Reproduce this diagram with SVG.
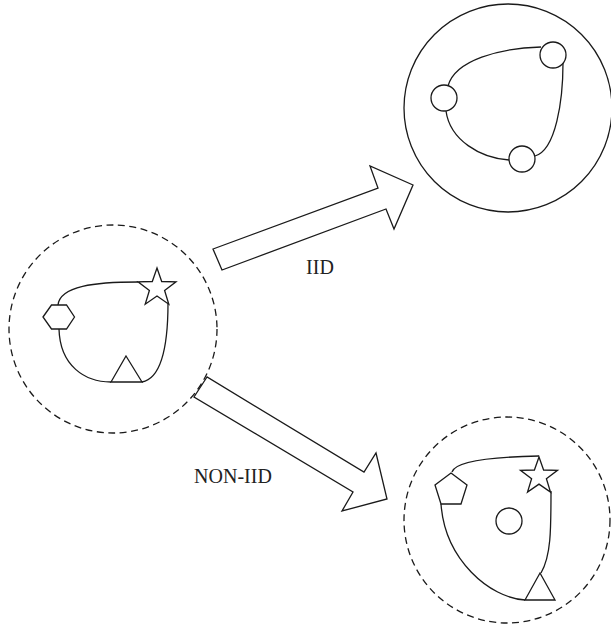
<svg xmlns="http://www.w3.org/2000/svg" width="611" height="629" viewBox="0 0 611 629">
<style>
.ln{fill:none;stroke:#1a1a1a;stroke-width:1.3}
.sh{fill:#fff;stroke:#1a1a1a;stroke-width:1.3;stroke-linejoin:miter}
.dash{fill:none;stroke:#1a1a1a;stroke-width:1.3;stroke-dasharray:7 4.5}
.lbl{font-family:"Liberation Serif","Times New Roman",serif;font-size:20px;fill:#222}
</style>
<rect width="611" height="629" fill="#fff"/>
<g id="connectors">
<polygon class="sh" points="222,270 213,249 378,188 370,166 413,185 394,229 386,209"/>
<polygon class="sh" points="207,377 194,397 353,492 342,511 387,499 376,453 364,472"/>
</g>
<g id="label-iid"><text class="lbl" x="320" y="274" text-anchor="middle">IID</text></g>
<g id="label-noniid"><text class="lbl" x="233" y="483" text-anchor="middle">NON-IID</text></g>
<g id="node-source">
<circle class="dash" cx="113" cy="329" r="104"/>
<path class="ln" d="M58,305 C60,286 95,282 138,282"/>
<path class="ln" d="M168,303 C168,340 163,378 142,382"/>
<path class="ln" d="M59,329 C60,366 85,382 111,382"/>
<polygon class="sh" points="43,317 51.5,305 66.5,305 74.5,317 66.5,329 51.5,329"/>
<polygon class="sh" points="157,268 161.7,281.5 176,281.8 164.6,290.5 168.8,304.2 157,296 145.2,304.2 149.4,290.5 138,281.8 152.3,281.5"/>
<polygon class="sh" points="126,356 142,382 111,382"/>
</g>
<g id="node-iid">
<circle class="ln" cx="508" cy="108" r="104"/>
<path class="ln" d="M448,86 C455,60 500,48 541,47"/>
<path class="ln" d="M563,63 C563,100 556,150 535,156"/>
<path class="ln" d="M446,111 C450,140 480,158 509,160"/>
<circle class="sh" cx="553" cy="55" r="13"/>
<circle class="sh" cx="444" cy="98" r="13"/>
<circle class="sh" cx="522" cy="159" r="13"/>
</g>
<g id="node-noniid">
<circle class="dash" cx="507" cy="520" r="103"/>
<path class="ln" d="M452,472 C455,461 490,457 539,456"/>
<path class="ln" d="M551,491 C551,530 551,556 541,573"/>
<path class="ln" d="M441,504 C445,560 490,598 525,600"/>
<polygon class="sh" points="451,473 467,485 461,504 441,504 435,485"/>
<polygon class="sh" points="539,457 543.6,470 557.5,470.3 546.4,478.8 550.5,492.1 539,484.1 527.5,492.1 531.6,478.8 520.5,470.3 534.4,470"/>
<circle class="sh" cx="509" cy="521" r="13"/>
<polygon class="sh" points="540,573 555,600 525,600"/>
</g>
</svg>
